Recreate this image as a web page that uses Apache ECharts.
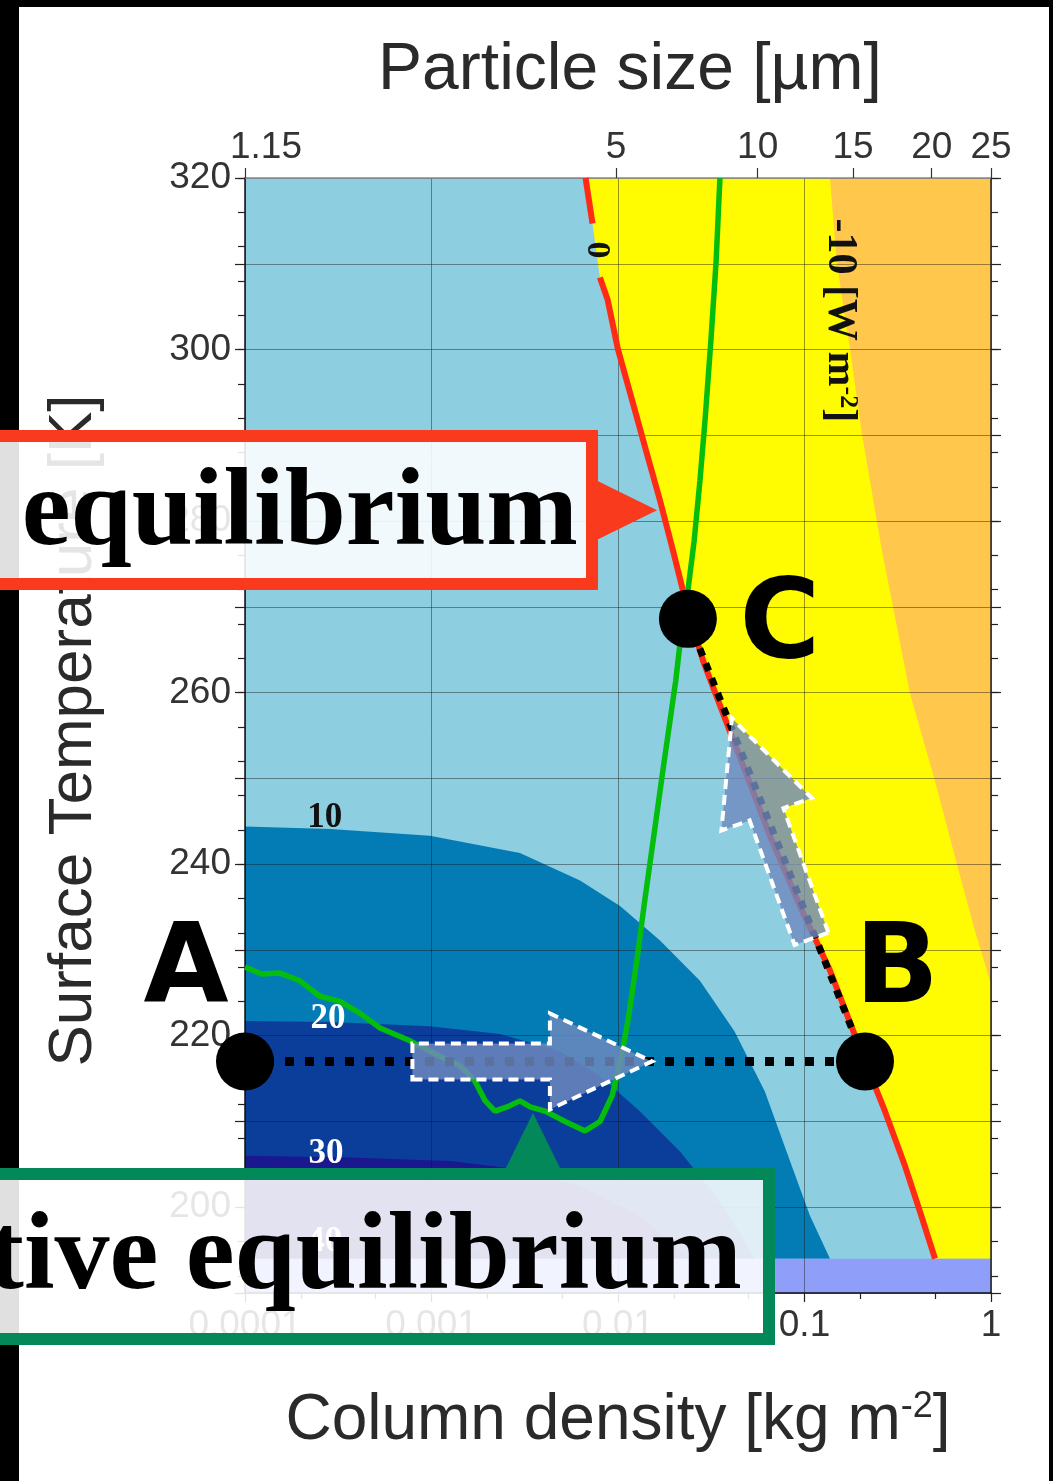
<!DOCTYPE html>
<html>
<head>
<meta charset="utf-8">
<script src="https://cdn.jsdelivr.net/npm/echarts@6/dist/echarts.min.js"></script>
<style>
  html, body { margin: 0; padding: 0; background: #000; overflow: hidden; }
  #frame { position: absolute; left: 19px; top: 7px; width: 1030px; height: 1474px; background: #fff; }
  #chart { position: absolute; left: 0; top: 0; width: 1053px; height: 1481px; }
</style>
</head>
<body>
<div id="frame"></div>
<div id="chart"></div>
<script>
// ---- Net flux map: surface temperature [K] vs column density [kg m^-2] ----

// Contour boundaries [column density, temperature]
const zeroContour = [[0.0067,320],[0.0073,314.7],[0.0080,308.4],[0.0088,305.8],[0.0100,300.0],[0.0119,294.1],
  [0.0141,288.3],[0.0168,282.4],[0.0197,276.6],[0.0237,269.6],[0.0286,263.7],[0.0361,257.9],[0.0480,250.9],
  [0.0653,243.3],[0.0946,235.1],[0.137,227.6],[0.211,217.0],[0.270,211.2],[0.346,204.8],[0.416,199.5],[0.501,194.0]];
const minus10Contour = [[0.137,320],[0.149,310.1],[0.175,300.2],[0.203,290.2],[0.260,276.6],[0.368,259.9],
  [0.501,249.7],[0.658,239.9],[0.821,232.2],[1,226.0]];
const plus10Contour = [[0.0001,244.4],[0.000286,244.1],[0.00098,243.3],[0.00298,241.3],[0.00626,238.1],[0.0103,235.1],
  [0.0168,231.1],[0.0275,226.4],[0.0422,220.5],[0.0613,213.5],[0.0836,205.4],[0.107,199.0],[0.137,194]];
const plus20Contour = [[0.0001,221.7],[0.000286,221.6],[0.00098,221.1],[0.00233,220.2],[0.00489,218.2],[0.00801,215.3],
  [0.0131,211.2],[0.0215,206.5],[0.0352,200.7],[0.0543,194]];
const plus30Contour = [[0.0001,206.0],[0.000366,205.8],[0.00126,205.4],[0.00298,204.4],[0.00626,202.5],[0.0131,199.0],[0.0243,194]];
const plus40Contour = [[0.0001,196.6],[0.000366,196.4],[0.00126,195.5],[0.00233,194]];
const lowBand = [190, 194];

// Radiative equilibrium curve
const radiativeEq = [[1.0e-4,228.0],[1.23e-4,227.2],[1.54e-4,227.3],[1.97e-4,226.4],[2.52e-4,224.6],[3.23e-4,224.0],
  [4.14e-4,222.6],[5.30e-4,220.9],[7.67e-4,219.4],[1.11e-3,217.6],[1.42e-3,216.5],[1.71e-3,214.7],[1.94e-3,212.4],
  [2.19e-3,211.2],[2.54e-3,211.7],[2.98e-3,212.4],[3.38e-3,211.7],[4.07e-3,211.2],[5.2e-3,210.0],[6.66e-3,208.9],
  [8.01e-3,210.0],[9.3e-3,213.0],[0.0103,217.0],[0.0113,221.7],[0.0126,228.7],[0.0139,235.7],[0.0157,243.9],
  [0.0174,250.9],[0.0190,256.7],[0.0204,261.4],[0.0219,267.2],[0.0237,271.9],[0.0256,277.7],[0.0275,284.7],
  [0.0293,291.8],[0.0315,301.1],[0.0336,310.4],[0.0352,320]];

// States A, B, C
const pointA = [0.0001, 217.0];
const pointB = [0.211, 217.0];
const pointC = [0.0237, 268.6];

// Arrows (tail, tip) in data space
const arrowAB = [[0.00079, 217.0], [0.0152, 217.0]];
const arrowBC = [[0.109, 231.3], [0.0408, 257.0]];

// Contour value labels
const contourLabels = [
  { text: '10', at: [2.68e-4, 245.4], color: '#111' },
  { text: '20', at: [2.79e-4, 222.0], color: '#fff' },
  { text: '30', at: [2.72e-4, 206.2], color: '#fff' },
  { text: '40', at: [2.68e-4, 196.0], color: '#fff' }
];
const zeroLabelAt = [0.0077, 311.6];
const minus10LabelAt = [0.155, 303.4];

// Axis ticks
const columnMinorTicks = [2e-4, 5e-4, 2e-3, 5e-3, 0.02, 0.05, 0.2, 0.5];
const particleSizeLabels = ['1.15', '5', '10', '15', '20', '25'];
const particleSizeAt = [0.0001, 0.00975, 0.0561, 0.182, 0.481, 1];
const tempMinorTicks = [];
for (let t = 192; t <= 320; t += 4) tempMinorTicks.push(t);

// Pointers of the two callout boxes
const eqPointer = [0.0162, 281.25];
const radPointer = [0.00350, 211.0];

const SANS = '"Liberation Sans", Arial, sans-serif';
const SERIF = '"Liberation Serif", "Times New Roman", serif';
const HEAVY = '"DejaVu Sans", sans-serif';
const GRID_LINE = { show: true, lineStyle: { color: 'rgba(25,25,25,0.45)', width: 1 } };
const TICK_TEXT = { color: '#333', fontSize: 37, fontFamily: SANS };

function region(name, pts, color, z) {
  return {
    type: 'custom', name, z, silent: true, clip: true,
    data: pts,
    encode: { x: 0, y: 1 },
    renderItem(params, api) {
      if (params.dataIndex !== 0) return null;
      return { type: 'polygon', shape: { points: pts.map(p => api.coord(p)) }, style: { fill: color } };
    }
  };
}

const chart = echarts.init(document.getElementById('chart'));

const logMinor = columnMinorTicks.map(v => Math.log10(v));
const logSize = particleSizeAt.map(v => Math.log10(v));

chart.setOption({
  animation: false,
  grid: { left: 245, top: 178, right: 62, bottom: 188, show: true, backgroundColor: '#8dcfe1',
          borderWidth: 0, containLabel: false, outerBoundsMode: 'none' },
  xAxis: [
    {
      type: 'log', logBase: 10, min: 0.0001, max: 1, position: 'bottom', z: 3,
      axisLine: { show: true, onZero: false, lineStyle: { color: '#111', width: 1.5 } },
      axisTick: { show: true, length: 9, lineStyle: { color: '#222', width: 1.2 } },
      axisLabel: Object.assign({ margin: 14, formatter: v => String(+(+v).toPrecision(3)) }, TICK_TEXT),
      splitLine: GRID_LINE,
      minorTick: { show: false }, minorSplitLine: { show: false },
      name: 'Column density [kg m{sup|-2}]', nameLocation: 'middle', nameGap: 96,
      nameTextStyle: { fontSize: 64, color: '#2a2a2a', fontFamily: SANS,
        rich: { sup: { fontSize: 36, color: '#2a2a2a', fontFamily: SANS, verticalAlign: 'top' } } }
    },
    {
      type: 'value', min: -4, max: 0, position: 'bottom', z: 3,
      axisLine: { show: false, onZero: false },
      axisTick: { show: true, length: 6, customValues: logMinor, lineStyle: { color: '#222', width: 1.2 } },
      axisLabel: { show: false }, splitLine: { show: false }
    },
    {
      type: 'value', min: -4, max: 0, position: 'top', z: 3,
      axisLine: { show: true, onZero: false, lineStyle: { color: '#8a8a8a', width: 1.5 } },
      axisTick: { show: true, length: 10, customValues: logSize, lineStyle: { color: '#333', width: 1.2 } },
      axisLabel: Object.assign({
        margin: 12, customValues: logSize,
        formatter: v => {
          const i = logSize.findIndex(s => Math.abs(s - v) < 1e-6);
          if (i < 0) return '';
          return i === 0 ? '{first|' + particleSizeLabels[0] + '}' : particleSizeLabels[i];
        },
        rich: { first: { color: '#333', fontSize: 37, fontFamily: SANS, padding: [0, 0, 0, 42] } }
      }, TICK_TEXT),
      splitLine: { show: false },
      name: 'Particle size [µm]', nameLocation: 'middle', nameGap: 74,
      nameTextStyle: { fontSize: 66, color: '#2a2a2a', fontFamily: SANS, padding: [0, 0, 0, 24] }
    }
  ],
  yAxis: [
    {
      type: 'value', min: 190, max: 320, interval: 10, position: 'left', z: 3,
      axisLine: { show: true, onZero: false, lineStyle: { color: '#111', width: 1.5 } },
      axisTick: { show: true, length: 10, lineStyle: { color: '#222', width: 1.2 } },
      axisLabel: Object.assign({ margin: 14, formatter: v => (v % 20 === 0 ? String(v) : '') }, TICK_TEXT),
      splitLine: GRID_LINE,
      name: 'Surface Temperature [K]', nameLocation: 'middle', nameGap: 140, nameRotate: 90,
      nameTextStyle: { fontSize: 62, color: '#2a2a2a', fontFamily: SANS, padding: [0, 0, 0, 10] }
    },
    {
      type: 'value', min: 190, max: 320, interval: 10, position: 'right', z: 3,
      axisLine: { show: true, onZero: false, lineStyle: { color: '#222', width: 1.5 } },
      axisTick: { show: true, length: 10, lineStyle: { color: '#222', width: 1.2 } },
      axisLabel: { show: false }, splitLine: { show: false }
    },
    {
      type: 'value', min: 190, max: 320, position: 'left', z: 3,
      axisLine: { show: false, onZero: false },
      axisTick: { show: true, length: 7, customValues: tempMinorTicks, lineStyle: { color: '#222', width: 1.2 } },
      axisLabel: { show: false }, splitLine: { show: false }
    },
    {
      type: 'value', min: 190, max: 320, position: 'right', z: 3,
      axisLine: { show: false, onZero: false },
      axisTick: { show: true, length: 7, customValues: tempMinorTicks, lineStyle: { color: '#222', width: 1.2 } },
      axisLabel: { show: false }, splitLine: { show: false }
    }
  ],
  series: [
    region('positive flux > 10', plus10Contour.concat([[0.0001, 194]]), '#037cb6', 1),
    region('positive flux > 20', plus20Contour.concat([[0.0001, 194]]), '#0b3e9b', 1),
    region('positive flux > 30', plus30Contour.concat([[0.0001, 194]]), '#1a178f', 1),
    region('positive flux > 40', plus40Contour.concat([[0.0001, 194]]), '#130d70', 1),
    region('negative flux', zeroContour.concat([[1, 194], [1, 320]]), '#fffb00', 1),
    region('negative flux < -10', minus10Contour.concat([[1, 320]]), '#ffc84c', 1),
    region('low band', [[0.0001, lowBand[0]], [1, lowBand[0]], [1, lowBand[1]], [0.0001, lowBand[1]]], '#8f9ff9', 1),
    {
      type: 'line', name: 'zero flux (upper)', z: 4, silent: true, showSymbol: false,
      data: zeroContour.slice(0, 2), lineStyle: { color: '#ff2b14', width: 6 }
    },
    {
      type: 'line', name: 'zero flux', z: 4, silent: true, showSymbol: false,
      data: zeroContour.slice(2), lineStyle: { color: '#ff2b14', width: 6 }
    },
    {
      type: 'line', name: 'radiative equilibrium', z: 4, silent: true, showSymbol: false,
      data: radiativeEq, lineStyle: { color: '#04bd0c', width: 5.5 }
    },
    {
      type: 'line', name: 'A-B', z: 5, silent: true, showSymbol: false,
      data: [pointA, pointB], lineStyle: { color: '#000', width: 9, type: [9, 11], cap: 'butt' }
    },
    {
      type: 'line', name: 'B-C', z: 5, silent: true, showSymbol: false,
      data: [pointC, pointB], lineStyle: { color: '#000', width: 7, type: [8, 8], cap: 'butt' }
    },
    {
      type: 'scatter', name: 'states', z: 6, silent: true,
      data: [pointA, pointB, pointC], symbolSize: 58, itemStyle: { color: '#000', opacity: 1 }
    }
  ]
});

// ---- Annotations ----
const px = p => chart.convertToPixel({ xAxisIndex: 0, yAxisIndex: 0 }, p);

function arrowShape(tail, tip, bodyHalf, headHalf, headLen) {
  const dx = tip[0] - tail[0], dy = tip[1] - tail[1], L = Math.hypot(dx, dy);
  const ux = dx / L, uy = dy / L, nx = -uy, ny = ux;
  const hb = [tip[0] - ux * headLen, tip[1] - uy * headLen];
  const off = (b, s) => [b[0] + nx * s, b[1] + ny * s];
  return [off(tail, bodyHalf), off(hb, bodyHalf), off(hb, headHalf), tip,
          off(hb, -headHalf), off(hb, -bodyHalf), off(tail, -bodyHalf)];
}

function text(x, y, str, font, fill, align, z, extra) {
  return Object.assign({
    type: 'text', x, y, z, silent: true,
    style: { text: str, font, fill, align, textAlign: align, verticalAlign: 'middle', textVerticalAlign: 'middle' }
  }, extra || {});
}

const g = [];

contourLabels.forEach(l => {
  const p = px(l.at);
  g.push(text(p[0], p[1], l.text, 'bold 35px ' + SERIF, l.color, 'center', 20));
});

const z0 = px(zeroLabelAt);
g.push(text(z0[0], z0[1], '0', 'bold 34px ' + SERIF, '#111', 'center', 20, { rotation: -Math.PI / 2 }));

const m10 = px(minus10LabelAt);
g.push({
  type: 'text', x: m10[0], y: m10[1], z: 20, silent: true, rotation: -Math.PI / 2,
  style: {
    text: '-10 [W m{sup|-2}]', font: 'bold 42px ' + SERIF, fill: '#111',
    align: 'center', textAlign: 'center', verticalAlign: 'middle', textVerticalAlign: 'middle',
    rich: { sup: { font: 'bold 26px ' + SERIF, fill: '#111', textFill: '#111', verticalAlign: 'top', textVerticalAlign: 'top' } }
  }
});

const arrowStyle = { fill: 'rgba(112,138,190,0.82)', stroke: '#fff', lineWidth: 4, lineDash: [10, 6] };
[arrowAB, arrowBC].forEach(a => {
  g.push({
    type: 'polygon', z: 30, silent: true,
    shape: { points: arrowShape(px(a[0]), px(a[1]), 18, 48, 102) },
    style: arrowStyle
  });
});

// State letters
const pa = px(pointA), pb = px(pointB), pc = px(pointC);
const LETTER = 'bold 110px ' + HEAVY;
g.push(text(pa[0] - 59, pa[1] - 88, 'A', LETTER, '#000', 'center', 40));
g.push(text(pb[0] + 32, pb[1] - 88, 'B', LETTER, '#000', 'center', 40));
g.push(text(pc[0] + 92, pc[1] + 10, 'C', LETTER, '#000', 'center', 40));

// Callout: equilibrium (red)
const RED = '#fa3a1c', GREEN = '#03885a';
const eq = px(eqPointer);
g.push({ type: 'polygon', z: 59, silent: true,
  shape: { points: [[592, eq[1] - 32], [eq[0], eq[1]], [592, eq[1] + 32]] }, style: { fill: RED } });
g.push({ type: 'rect', z: 60, silent: true, shape: { x: -24, y: 436, width: 616, height: 148 },
  style: { fill: 'rgba(255,255,255,0.88)', stroke: RED, lineWidth: 12 } });
g.push(text(578, 516, 'equilibrium', 'bold 110px ' + SERIF, '#000', 'right', 61));

// Callout: radiative equilibrium (green)
const rad = px(radPointer);
g.push({ type: 'polygon', z: 59, silent: true,
  shape: { points: [[rad[0] - 30, 1174], [rad[0], rad[1]], [rad[0] + 30, 1174]] }, style: { fill: GREEN } });
g.push({ type: 'rect', z: 60, silent: true, shape: { x: -24, y: 1174, width: 793, height: 165 },
  style: { fill: 'rgba(255,255,255,0.88)', stroke: GREEN, lineWidth: 12 } });
g.push(text(742, 1260, 'tive equilibrium', 'bold 110px ' + SERIF, '#000', 'right', 61));

chart.setOption({ graphic: { elements: g } });
</script>
</body>
</html>
